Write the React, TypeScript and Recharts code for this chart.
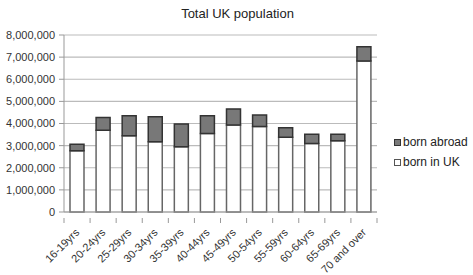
import { BarChart, Bar, XAxis, YAxis, CartesianGrid, Legend } from "recharts";

const AGE_GROUPS = [
  "16-19yrs", "20-24yrs", "25-29yrs", "30-34yrs", "35-39yrs", "40-44yrs",
  "45-49yrs", "50-54yrs", "55-59yrs", "60-64yrs", "65-69yrs", "70 and over",
];
const BORN_IN_UK = [
  2770000, 3700000, 3450000, 3180000, 2950000, 3550000,
  3930000, 3860000, 3380000, 3100000, 3220000, 6820000,
];
const BORN_ABROAD = [
  290000, 570000, 900000, 1130000, 1030000, 800000,
  730000, 520000, 430000, 410000, 290000, 650000,
];
const Y_TICKS = [0, 1000000, 2000000, 3000000, 4000000, 5000000, 6000000, 7000000, 8000000];

const data = AGE_GROUPS.map((age, i) => ({
  age,
  uk: BORN_IN_UK[i],
  abroad: BORN_ABROAD[i],
}));

const W = 473;
const H = 275;
const MARGIN = { top: 35, right: 96, bottom: 0, left: 0 };
const Y_WIDTH = 64;
const BAND = (W - MARGIN.left - MARGIN.right - Y_WIDTH) / AGE_GROUPS.length;
const FONT = "'Liberation Sans', Arial, sans-serif";

const LEGEND_ITEMS = [
  { label: "born abroad", fill: "#7a7a7a", stroke: "#333" },
  { label: "born in UK", fill: "#fff", stroke: "#555" },
];

function AgeTick(props: any) {
  const { x, y, payload, index } = props;
  const last = index === AGE_GROUPS.length - 1;
  const tx = x + 3;
  const ty = y + 13;
  return (
    <g>
      <line x1={x - BAND / 2} x2={x - BAND / 2} y1={y - 2} y2={y + 3} stroke="#999" />
      {last && <line x1={x + BAND / 2} x2={x + BAND / 2} y1={y - 2} y2={y + 3} stroke="#999" />}
      <text
        x={tx}
        y={ty}
        transform={`rotate(-45 ${tx} ${ty})`}
        textAnchor="end"
        fontSize={11}
        fill="#333"
        fontFamily={FONT}
      >
        {payload.value}
      </text>
    </g>
  );
}

function LegendBox() {
  return (
    <div style={{ fontFamily: FONT, fontSize: 12, color: "#222" }}>
      {LEGEND_ITEMS.map((it) => (
        <div key={it.label} style={{ display: "flex", alignItems: "center", height: 20, whiteSpace: "nowrap" }}>
          <span
            style={{
              display: "inline-block",
              width: 5,
              height: 5,
              background: it.fill,
              border: `1px solid ${it.stroke}`,
              marginRight: 2,
            }}
          />
          {it.label}
        </div>
      ))}
    </div>
  );
}

export default function App() {
  return (
    <div style={{ position: "fixed", top: 0, left: 0, width: W, height: H, background: "#fff", fontFamily: FONT }}>
      <div style={{ position: "absolute", top: 6, left: 0, width: W, textAlign: "center", fontSize: 13, color: "#222" }}>
        <span style={{ position: "relative", left: 1 }}>Total UK population</span>
      </div>
      <BarChart width={W} height={H} data={data} margin={MARGIN} barSize={14}>
        <CartesianGrid vertical={false} stroke="#bbb" strokeWidth={1.2} />
        <XAxis
          dataKey="age"
          interval={0}
          height={63}
          tickLine={false}
          axisLine={{ stroke: "#999" }}
          tick={<AgeTick />}
        />
        <YAxis
          width={Y_WIDTH}
          domain={[0, 8000000]}
          ticks={Y_TICKS}
          interval={0}
          tickFormatter={(v) => v.toLocaleString("en-US")}
          tick={{ fontSize: 11, fill: "#333", fontFamily: FONT }}
          tickSize={5}
          tickMargin={4}
          tickLine={{ stroke: "#999" }}
          axisLine={{ stroke: "#999" }}
        />
        <Legend
          layout="vertical"
          align="center"
          verticalAlign="middle"
          wrapperStyle={{ top: 132, left: 394, width: 79 }}
          content={<LegendBox />}
        />
        <Bar dataKey="uk" name="born in UK" stackId="a" fill="#fff" stroke="#666" strokeWidth={1.5} isAnimationActive={false} />
        <Bar dataKey="abroad" name="born abroad" stackId="a" fill="#787878" stroke="#333" strokeWidth={1.5} isAnimationActive={false} />
      </BarChart>
    </div>
  );
}
